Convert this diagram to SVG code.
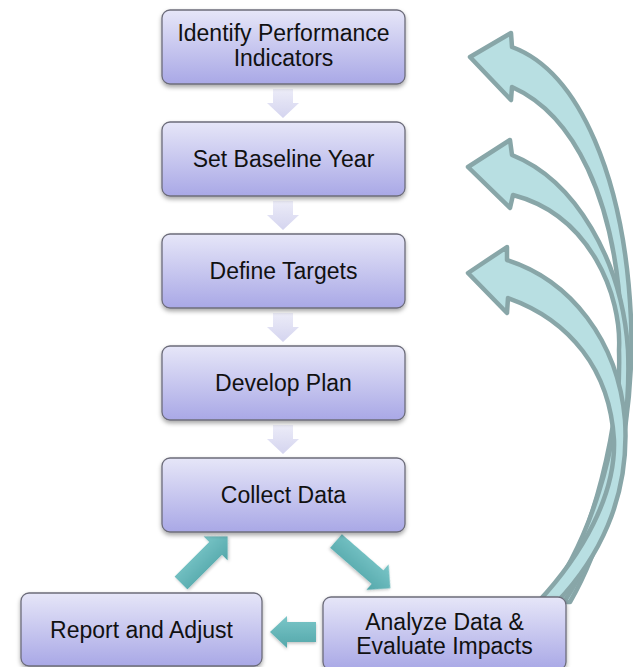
<svg xmlns="http://www.w3.org/2000/svg" width="633" height="667" viewBox="0 0 633 667">
<style>
.box{fill:url(#boxg);stroke:#6c6c7a;stroke-width:1.3;filter:url(#sh)}
.t{font-family:"Liberation Sans",Arial,sans-serif;font-size:23px;fill:#111;text-anchor:middle}
.down{fill:url(#downg)}
.teal{fill:url(#tealg);filter:url(#sh2)}
.curve{fill:#b8dfe2;stroke:#88a6a8;stroke-width:4.5;stroke-linejoin:round}
</style>
<defs>
<linearGradient id="boxg" x1="0" y1="0" x2="0" y2="1">
<stop offset="0" stop-color="#e6e6f8"/>
<stop offset="1" stop-color="#a9a8e6"/>
</linearGradient>
<linearGradient id="downg" x1="0" y1="0" x2="0" y2="1">
<stop offset="0" stop-color="#ececf8"/>
<stop offset="1" stop-color="#d4d4ef"/>
</linearGradient>
<linearGradient id="tealg" x1="0" y1="0" x2="0" y2="1">
<stop offset="0" stop-color="#7ac6c8"/>
<stop offset="1" stop-color="#54a7aa"/>
</linearGradient>
<filter id="sh" x="-10%" y="-10%" width="120%" height="130%">
<feDropShadow dx="0" dy="2.5" stdDeviation="2" flood-color="#000" flood-opacity="0.35"/>
</filter>
<filter id="sh2" x="-20%" y="-20%" width="140%" height="140%">
<feDropShadow dx="0" dy="1.5" stdDeviation="1.5" flood-color="#000" flood-opacity="0.25"/>
</filter>
</defs>

<g id="connectors">
<g id="feedback-arrows">
<path class="curve" d="M512,47 L511,33 L470,57 L511,100 L512,87 C575,115 615,200 621,320 C622,430 592,540 550,602 L570,602 C606,540 635,430 631,320 C625,180 580,72 512,47 Z"/>
<path class="curve" d="M512,155 L510,140 L468,167 L510,208 L513,195 C590,215 622,295 619,350 C622,450 587,545 545,602 L564,602 C602,545 632,450 628,350 C622,260 575,180 512,155 Z"/>
<path class="curve" d="M507,260 L507,247 L468,273 L507,313 L508,298 C570,320 610,370 614,440 C616,495 582,555 538,602 L557,602 C597,560 630,500 625,420 C618,340 570,280 507,260 Z"/>
</g>
<g id="down-arrows">
<path class="down" d="M273,89 H293 V103 H299 L283,118 L267,103 H273 Z"/>
<path class="down" d="M273,201 H293 V215 H299 L283,230 L267,215 H273 Z"/>
<path class="down" d="M273,313 H293 V327 H299 L283,342 L267,327 H273 Z"/>
<path class="down" d="M273,425 H293 V439 H299 L283,454 L267,439 H273 Z"/>
</g>
<g id="cycle-arrows">
<path class="teal" transform="translate(181,583) rotate(-45)" d="M0,-9 H49 V-17 L66,0 L49,17 V9 H0 Z"/>
<path class="teal" transform="translate(336,541) rotate(41)" d="M0,-9 H55 V-17 L72,0 L55,17 V9 H0 Z"/>
<path class="teal" d="M316,622 H287 V616 L270,632 L287,648 V642 H316 Z"/>
</g>
</g>

<g id="node-identify">
<rect class="box" x="162" y="10" width="243" height="74" rx="8"/>
<text class="t" x="283.5" y="41">Identify Performance</text>
<text class="t" x="283.5" y="65.5">Indicators</text>
</g>
<g id="node-baseline">
<rect class="box" x="162" y="122" width="243" height="74" rx="8"/>
<text class="t" x="283.5" y="167">Set Baseline Year</text>
</g>
<g id="node-targets">
<rect class="box" x="162" y="234" width="243" height="74" rx="8"/>
<text class="t" x="283.5" y="279">Define Targets</text>
</g>
<g id="node-plan">
<rect class="box" x="162" y="346" width="243" height="74" rx="8"/>
<text class="t" x="283.5" y="391">Develop Plan</text>
</g>
<g id="node-collect">
<rect class="box" x="162" y="458" width="243" height="74" rx="8"/>
<text class="t" x="283.5" y="503">Collect Data</text>
</g>
<g id="node-report">
<rect class="box" x="21" y="593" width="241" height="73" rx="8"/>
<text class="t" x="141.5" y="638">Report and Adjust</text>
</g>
<g id="node-analyze">
<rect class="box" x="323" y="597" width="243" height="73" rx="8"/>
<text class="t" x="444.5" y="629.5">Analyze Data &amp;</text>
<text class="t" x="444.5" y="654">Evaluate Impacts</text>
</g>
</svg>
